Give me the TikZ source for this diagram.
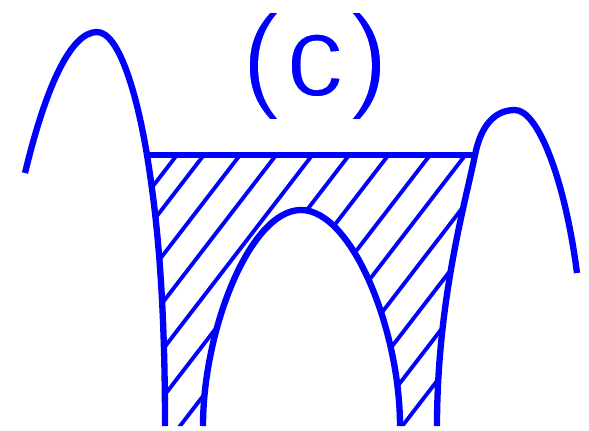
\documentclass[tikz,border=0pt]{standalone}
\usepackage{fontspec}
\setmainfont{Liberation Sans}[LetterSpace=5]
% thinner strokes for the big label: glyphs filled, then edged in white
\newcommand{\thinlabel}[1]{\special{pdf:code q 1 1 1 RG 1.1 w 2 Tr}#1\special{pdf:code Q}}

\begin{document}
\begin{tikzpicture}[x=0.02cm,y=-0.02cm,
    curve/.style={blue,line width=3.6pt},
    hatch/.style={blue,line width=2.2pt}]
  \useasboundingbox (0,0) rectangle (589,430);
  % hatching under the rim
  \begin{scope}
    \clip (147,155) -- (475,155) .. controls (466,200) and (437,300) .. (437,426)
      -- (165,426) .. controls (165,280) and (155,205) .. (147,155) -- cycle;
    \foreach \c in {385,420,467,514,561,609,660,714,760,809,856,903,949}
      \draw[hatch] (100,\c-130) -- (520,\c-676);
  \end{scope}
  % blank out the inside of the arch
  \fill[white] (203,432) .. controls (203,330) and (250,210) .. (301,210)
    .. controls (352,210) and (400,330) .. (400,432) -- cycle;
  % outer curve, left branch
  \draw[curve] (25,173) .. controls (45,90) and (70,32) .. (97,32)
    .. controls (120,32) and (138,100) .. (147,155)
    .. controls (155,205) and (165,280) .. (165,426);
  % outer curve, right branch
  \draw[curve] (437,426) .. controls (437,300) and (466,200) .. (475,155)
    .. controls (481,125) and (495,110) .. (515,110)
    .. controls (538,110) and (565,180) .. (577,273);
  % rim
  \draw[curve] (147,155) -- (475,155);
  % inner arch
  \draw[curve] (203,426) .. controls (203,330) and (250,210) .. (301,210)
    .. controls (352,210) and (400,330) .. (400,426);
  % label
  \node[text=blue,inner sep=0pt,font=\fontsize{66}{70}\selectfont] (lbl) at (315,66) {\thinlabel{(c)}};
\end{tikzpicture}
\end{document}
